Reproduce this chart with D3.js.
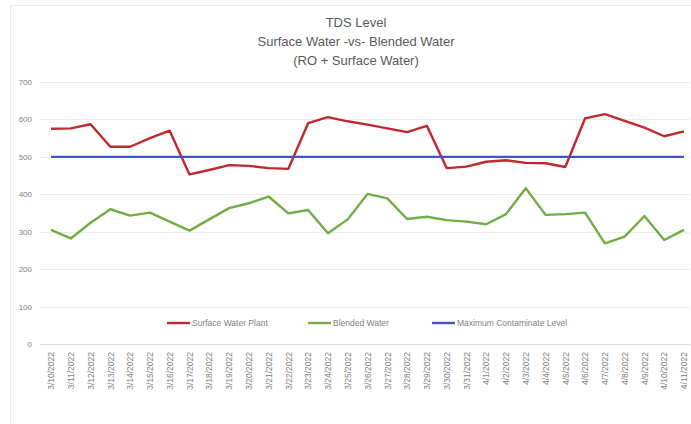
<!DOCTYPE html>
<html>
<head>
<meta charset="utf-8">
<script src="https://cdn.jsdelivr.net/npm/d3@7"></script>
<style>
html,body{margin:0;padding:0;background:#fff;}
svg{display:block;font-family:"Liberation Sans","DejaVu Sans",sans-serif;}
</style>
</head>
<body>
<svg id="chart" width="691" height="424"></svg>
<script>
const dates = ["3/10/2022","3/11/2022","3/12/2022","3/13/2022","3/14/2022","3/15/2022","3/16/2022","3/17/2022","3/18/2022","3/19/2022","3/20/2022","3/21/2022","3/22/2022","3/23/2022","3/24/2022","3/25/2022","3/26/2022","3/27/2022","3/28/2022","3/29/2022","3/30/2022","3/31/2022","4/1/2022","4/2/2022","4/3/2022","4/4/2022","4/5/2022","4/6/2022","4/7/2022","4/8/2022","4/9/2022","4/10/2022","4/11/2022"];
const surfaceWater = [575,576,587,527,527,550,570,453,465,478,476,470,468,590,606,595,586,576,566,583,470,474,487,491,484,483,473,603,614,596,578,555,568];
const blendedWater = [305,282,324,360,343,351,327,303,333,363,376,394,349,358,296,333,401,389,334,340,331,327,320,347,416,345,347,351,269,287,342,278,305];
const maxLevel = dates.map(() => 500);
const yTicks = [0,100,200,300,400,500,600,700];
const titleLines = ["TDS Level","Surface Water -vs- Blended Water","(RO + Surface Water)"];
const seriesNames = ["Surface Water Plant","Blended Water","Maximum Contaminate Level"];
const seriesColors = ["#c0282d","#70ad47","#4054c4"];

const svg = d3.select("#chart");
// faint frame
svg.append("line").attr("x1",10).attr("x2",691).attr("y1",5.5).attr("y2",5.5).attr("stroke","#ececec");
svg.append("line").attr("x1",10.5).attr("x2",10.5).attr("y1",5).attr("y2",424).attr("stroke","#ececec");

const x = d3.scalePoint().domain(dates).range([51,684]);
const y = d3.scaleLinear().domain([0,700]).range([344,82]);

// gridlines
svg.append("g").selectAll("line").data(yTicks).join("line")
  .attr("x1",40).attr("x2",690)
  .attr("y1",d=>Math.round(y(d))+0.5).attr("y2",d=>Math.round(y(d))+0.5)
  .attr("stroke",d=>d===0?"#d9d9d9":"#ececec").attr("stroke-width",1);

// y axis labels
const yAxis = d3.axisLeft(y).tickValues(yTicks).tickSize(0).tickPadding(0);
const gy = svg.append("g").attr("transform","translate(32,0)").call(yAxis);
gy.select(".domain").remove();
gy.selectAll("text").attr("fill","#7f7f7f").style("font-size","8px");

// x axis labels
const xAxis = d3.axisBottom(x).tickSize(0).tickPadding(0);
const gx = svg.append("g").attr("transform","translate(0,0)").call(xAxis);
gx.select(".domain").remove();
gx.selectAll("text")
  .attr("transform","rotate(-90)")
  .attr("x",-352).attr("y",0).attr("dy","0.32em")
  .attr("text-anchor","end")
  .attr("fill","#7f7f7f").style("font-size","8.5px");

// lines
const line = d3.line().x((d,i)=>x(dates[i])).y(d=>y(d));
[surfaceWater, blendedWater, maxLevel].forEach((s,i)=>{
  svg.append("path").datum(s).attr("d",line)
    .attr("fill","none").attr("stroke",seriesColors[i])
    .attr("stroke-width",2.4).attr("stroke-linejoin","round");
});

// title
svg.append("g").selectAll("text").data(titleLines).join("text")
  .attr("x",356).attr("y",(d,i)=>27+i*19)
  .attr("text-anchor","middle").attr("fill","#595959")
  .style("font-size","13px").text(d=>d);

// legend
const legX = [167,308,432];
const leg = svg.append("g").selectAll("g").data(seriesNames).join("g")
  .attr("transform",(d,i)=>`translate(${legX[i]},323)`);
leg.append("line").attr("x1",0).attr("x2",23).attr("y1",0).attr("y2",0)
  .attr("stroke",(d,i)=>seriesColors[i]).attr("stroke-width",2.4);
leg.append("text").attr("x",25).attr("y",0).attr("dy","0.35em")
  .attr("fill","#7f7f7f").style("font-size","8.5px").text(d=>d);
</script>
</body>
</html>
